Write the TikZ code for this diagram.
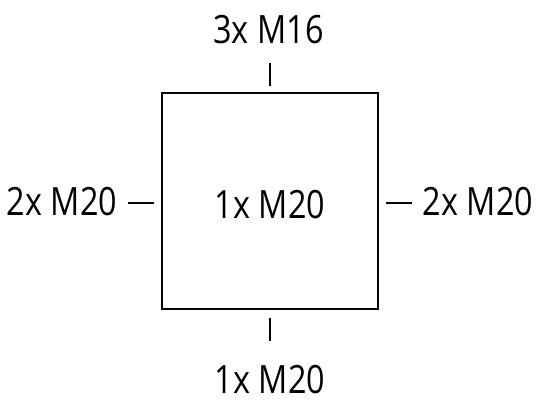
\documentclass[tikz,border=0pt]{standalone}
\usepackage{fontspec}
\setmainfont{Open Sans}[FakeStretch=0.83]
\begin{document}
\begin{tikzpicture}[x=1pt,y=-1pt,
  lbl/.style={inner sep=0pt,anchor=base,font=\fontsize{39}{39}\selectfont},
  edge/.style={line width=2pt},
  tick/.style={line width=2pt}]
\useasboundingbox (0,0) rectangle (536,400);
\node[draw,line width=2pt,minimum width=216pt,minimum height=216pt,inner sep=0pt] (box) at (270,201) {};
\node[lbl] (c) at (270,218) {1x M20};
\node[lbl] (t) at (268.5,43) {3x M16};
\node[lbl] (b) at (270,393) {1x M20};
\node[lbl] (l) at (62,215) {2x M20};
\node[lbl] (r) at (478,215) {2x M20};
\draw[tick] (270,63) -- (270,86);
\draw[tick] (270,318) -- (270,341);
\draw[tick] (128,203) -- (154,203);
\draw[tick] (386,203) -- (412,203);
\end{tikzpicture}
\end{document}
